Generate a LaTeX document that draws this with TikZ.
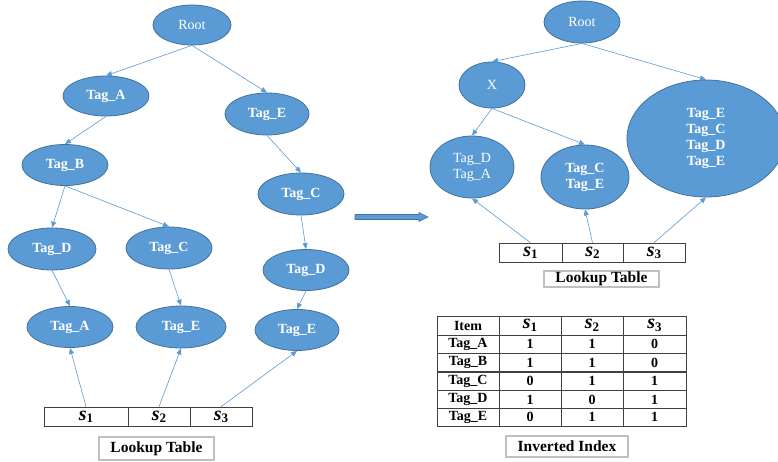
\documentclass[tikz,border=0pt]{standalone}
\usepackage{fontspec}
\setmainfont{Liberation Serif}
\usetikzlibrary{shapes.geometric,arrows.meta}
\definecolor{nodefill}{HTML}{5B9BD5}
\definecolor{nodeline}{HTML}{41719C}
\definecolor{linkc}{HTML}{5B9BD5}
\definecolor{cellline}{HTML}{404040}
\definecolor{labline}{HTML}{BFBFBF}
\newcommand{\sv}[1]{{\fontsize{20}{20}\selectfont\bfseries\itshape s}\raisebox{-0.5ex}{\fontsize{13}{13}\selectfont\bfseries #1}}
\tikzset{
  tnode/.style={ellipse, fill=nodefill, draw=nodeline, line width=0.8pt, inner sep=0pt,
    text=white, font=\fontsize{14}{16}\selectfont\bfseries, align=center},
  rnode/.style={tnode, font=\fontsize{14}{16}\selectfont},
  link/.style={draw=linkc, line width=0.6pt, -{Triangle[length=6pt,width=5pt]}},
  cell/.style={rectangle, draw=cellline, line width=0.6pt, inner sep=0pt, minimum height=19pt},
  tcell/.style={rectangle, draw=cellline, line width=0.6pt, inner sep=0pt, font=\fontsize{14}{14}\selectfont\bfseries},
  labbox/.style={rectangle, draw=labline, line width=1.2pt, inner sep=0pt, font=\fontsize{15.5}{16}\selectfont\bfseries},
}
\begin{document}
\begin{tikzpicture}[x=1pt,y=-1pt]
\useasboundingbox (0,0) rectangle (778,461);
\fill[white] (0,0) rectangle (778,461);

% ---------- left tree ----------
\node[rnode, minimum width=78pt, minimum height=40pt] (lroot) at (192,25) {Root};
\node[tnode, minimum width=86pt, minimum height=40pt] (ltagA) at (106,96) {Tag\_A};
\node[tnode, minimum width=84pt, minimum height=42pt] (ltagE) at (267,114) {Tag\_E};
\node[tnode, minimum width=86pt, minimum height=41pt] (ltagB) at (65,165) {Tag\_B};
\node[tnode, minimum width=86pt, minimum height=42pt] (ltagC) at (301,194) {Tag\_C};
\node[tnode, minimum width=88pt, minimum height=42pt] (ltagD1) at (52,249) {Tag\_D};
\node[tnode, minimum width=86pt, minimum height=42pt] (ltagC2) at (169,248) {Tag\_C};
\node[tnode, minimum width=86pt, minimum height=41pt] (ltagD2) at (306,270) {Tag\_D};
\node[tnode, minimum width=86pt, minimum height=41pt] (ltagA2) at (70,327) {Tag\_A};
\node[tnode, minimum width=90pt, minimum height=42pt] (ltagE2) at (181,327) {Tag\_E};
\node[tnode, minimum width=84pt, minimum height=41pt] (ltagE3) at (297,330) {Tag\_E};

\draw[link] (lroot.south) -- (ltagA.north);
\draw[link] (lroot.south) -- (ltagE.north);
\draw[link] (ltagA.south) -- (ltagB.north);
\draw[link] (ltagB.south) -- (ltagD1.north);
\draw[link] (ltagB.south) -- (ltagC2.north);
\draw[link] (ltagE.south) -- (ltagC.north);
\draw[link] (ltagC.south) -- (ltagD2.north);
\draw[link] (ltagD1.south) -- (ltagA2.north);
\draw[link] (ltagC2.south) -- (ltagE2.north);
\draw[link] (ltagD2.south) -- (ltagE3.north);

% left lookup table
\node[cell, minimum width=84pt] (ls1) at (86,416.5) {\sv{1}};
\node[cell, minimum width=62pt] (ls2) at (159,416.5) {\sv{2}};
\node[cell, minimum width=62pt] (ls3) at (221,416.5) {\sv{3}};
\draw[link] (ls1.north) -- (ltagA2.south);
\draw[link] (ls2.north) -- (ltagE2.south);
\draw[link] (ls3.north) -- (ltagE3.south);
\node[labbox, minimum width=115pt, minimum height=23pt] (llab) at (156.5,448.5) {Lookup Table};

% ---------- transition arrow ----------
\draw[fill=nodefill, draw=nodeline, line width=0.6pt]
  (355,214.5) -- (419,214.5) -- (419,212.5) -- (428,217) -- (419,221.5) -- (419,219.5) -- (355,219.5) -- cycle;

% ---------- right tree ----------
\node[rnode, minimum width=76pt, minimum height=42pt] (rroot) at (582,22) {Root};
\node[rnode, minimum width=66pt, minimum height=46pt] (rx) at (492,85) {X};
\node[rnode, minimum width=84pt, minimum height=62pt] (rda) at (472,167) {Tag\_D\\Tag\_A};
\node[tnode, minimum width=88pt, minimum height=64pt] (rce) at (585,177) {Tag\_C\\Tag\_E};
\node[tnode, minimum width=158pt, minimum height=117pt] (rbig) at (706,138.5) {Tag\_E\\Tag\_C\\Tag\_D\\Tag\_E};

\draw[link] (rroot.south) -- (rx.north);
\draw[link] (rroot.south) -- (rbig.north);
\draw[link] (rx.south) -- (rda.north);
\draw[link] (rx.south) -- (rce.north);

% right lookup table
\node[cell, minimum width=63pt] (rs1) at (530.5,252.5) {\sv{1}};
\node[cell, minimum width=61pt] (rs2) at (592.5,252.5) {\sv{2}};
\node[cell, minimum width=62pt] (rs3) at (654,252.5) {\sv{3}};
\draw[link] (rs1.north) -- (rda.south);
\draw[link] (rs2.north) -- (rce.south);
\draw[link] (rs3.north) -- (rbig.south);
\node[labbox, minimum width=115pt, minimum height=16pt] (rlab) at (601.5,279) {Lookup Table};

% ---------- inverted index ----------
\node[tcell, minimum width=62pt, minimum height=19pt] (h0) at (468,325.5) {Item};
\node[tcell, minimum width=62pt, minimum height=19pt] (h1) at (530,325.5) {\sv{1}};
\node[tcell, minimum width=62pt, minimum height=19pt] (h2) at (592,325.5) {\sv{2}};
\node[tcell, minimum width=63pt, minimum height=19pt] (h3) at (654.5,325.5) {\sv{3}};
\foreach \r/\y/\t/\a/\b/\c in {1/344/A/1/1/0, 2/362.5/B/1/1/0, 3/381/C/0/1/1, 4/399.5/D/1/0/1, 5/417/E/0/1/1}{
  \node[tcell, minimum width=62pt, minimum height=18.3pt] (r\r c0) at (468,\y) {Tag\_\t};
  \node[tcell, minimum width=62pt, minimum height=18.3pt] (r\r c1) at (530,\y) {\a};
  \node[tcell, minimum width=62pt, minimum height=18.3pt] (r\r c2) at (592,\y) {\b};
  \node[tcell, minimum width=63pt, minimum height=18.3pt] (r\r c3) at (654.5,\y) {\c};
}
\node[labbox, minimum width=122pt, minimum height=21pt] (ilab) at (567,446.5) {Inverted Index};
\end{tikzpicture}
\end{document}
